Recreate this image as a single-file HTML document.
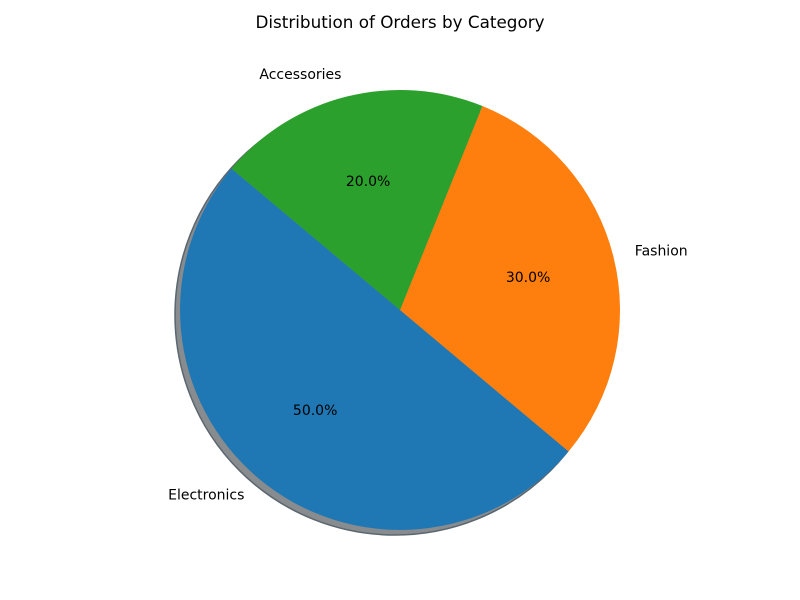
<!DOCTYPE html>
<html><head><meta charset="utf-8">
<style>
html,body{margin:0;padding:0;background:#fff;}
svg{display:block;font-family:"DejaVu Sans","Liberation Sans",sans-serif;}
</style></head>
<body>
<svg id="chart" width="800" height="600" viewBox="0 0 800 600">
<text x="400" y="28" text-anchor="middle" font-size="16.8" fill="#000">Distribution of Orders by Category</text>
</svg>
<script>
const categories = ["Electronics", "Fashion", "Accessories"];
const values = [50, 30, 20];
const colors = ["#1f77b4", "#ff7f0e", "#2ca02c"];
const startAngle = 140;

const svg = document.getElementById('chart');
const NS = 'http://www.w3.org/2000/svg';
const cx = 400, cy = 310, R = 220;
function pt(angDeg, r) {
  const a = angDeg * Math.PI / 180;
  return [cx + r * Math.cos(a), cy - r * Math.sin(a)];
}
const shadow = document.createElementNS(NS, 'circle');


shadow.setAttribute('cx', cx - 5); shadow.setAttribute('cy', cy + 5); shadow.setAttribute('r', R);
shadow.setAttribute('fill', '#888c8f'); shadow.setAttribute('stroke', '#5a6670'); shadow.setAttribute('stroke-width', '1.5');
svg.appendChild(shadow);

const total = values.reduce((a, b) => a + b, 0);
let ang = startAngle;
values.forEach((v, i) => {
  const sweep = v / total * 360;
  const a0 = ang, a1 = ang + sweep, mid = ang + sweep / 2;
  const [x0, y0] = pt(a0, R), [x1, y1] = pt(a1, R);
  const p = document.createElementNS(NS, 'path');
  
  
  p.setAttribute('d', `M${cx},${cy} L${x0},${y0} A${R},${R} 0 ${sweep > 180 ? 1 : 0} 0 ${x1},${y1} Z`);
  p.setAttribute('fill', colors[i]);
  svg.appendChild(p);
  const [lx, ly] = pt(mid, R * 1.1);
  const t = document.createElementNS(NS, 'text');
  
  
  t.setAttribute('x', lx); t.setAttribute('y', ly + 4);
  t.setAttribute('font-size', '14');
  t.setAttribute('text-anchor', Math.cos(mid * Math.PI / 180) < 0 ? 'end' : 'start');
  t.textContent = categories[i];
  svg.appendChild(t);
  const [px, py] = pt(mid, R * 0.6);
  const pt2 = document.createElementNS(NS, 'text');
  
  
  pt2.setAttribute('x', px); pt2.setAttribute('y', py + 4);
  pt2.setAttribute('font-size', '14');
  pt2.setAttribute('text-anchor', 'middle');
  pt2.textContent = (v / total * 100).toFixed(1) + '%';
  svg.appendChild(pt2);
  ang = a1;
});
</script>
</body></html>
